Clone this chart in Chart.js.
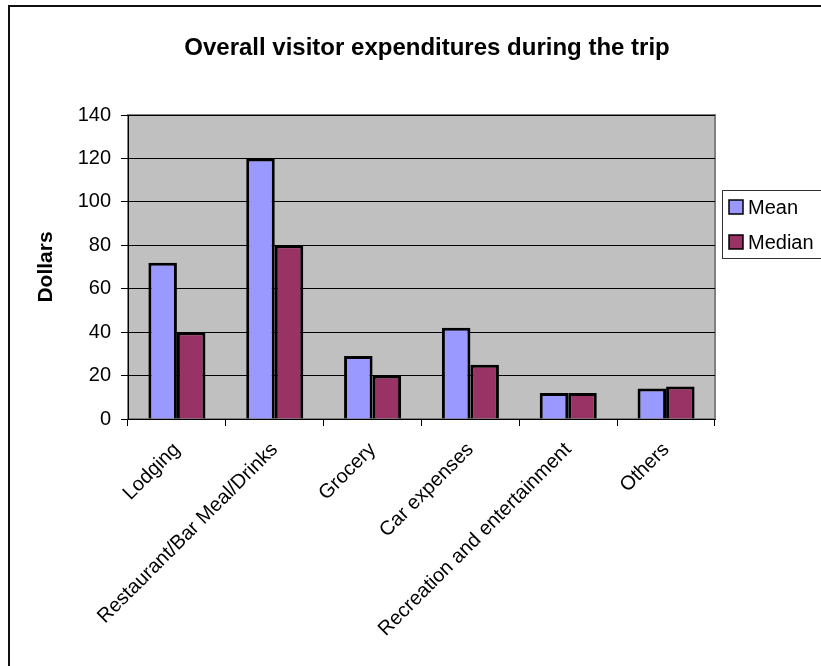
<!DOCTYPE html>
<html>
<head>
<meta charset="utf-8">
<title>Overall visitor expenditures during the trip</title>
<script src="https://cdn.jsdelivr.net/npm/chart.js@4"></script>
<style>
  html, body { margin: 0; padding: 0; background: #fff; }
  #wrap { position: relative; width: 821px; height: 666px; }
</style>
</head>
<body>
<div id="wrap"><canvas id="spesaChart"></canvas></div>
<script>
// ===== DATI =====
const categorie = [
  "Lodging",
  "Restaurant/Bar Meal/Drinks",
  "Grocery",
  "Car expenses",
  "Recreation and entertainment",
  "Others",
];
const mediaSpesa = [72, 120, 29, 42, 12, 14];
const medianaSpesa = [40, 80, 20, 25, 12, 15];
const tickDollari = [0, 20, 40, 60, 80, 100, 120, 140];

const FONT = "'Liberation Sans', Arial, sans-serif";

// ===== SFONDO, CORNICE, TITOLO E LEGENDA =====
const cornice = {
  id: "cornice",
  beforeDraw(chart) {
    const { ctx, chartArea: a } = chart;
    ctx.save();
    // area del grafico grigia
    ctx.fillStyle = "#c0c0c0";
    ctx.fillRect(a.left, a.top, a.right - a.left, a.bottom - a.top);
    ctx.strokeStyle = "#808080";
    ctx.lineWidth = 2;
    ctx.strokeRect(a.left, a.top, a.right - a.left, a.bottom - a.top);
    // bordo esterno (lati destro e inferiore fuori dalla tela)
    ctx.strokeStyle = "#111";
    ctx.lineWidth = 2;
    ctx.beginPath();
    ctx.moveTo(9, 700);
    ctx.lineTo(9, 6);
    ctx.lineTo(900, 6);
    ctx.stroke();
    ctx.restore();
  },
  afterDraw(chart) {
    const { ctx } = chart;
    ctx.save();
    // titolo
    ctx.fillStyle = "#000";
    ctx.font = `bold 24px ${FONT}`;
    ctx.textAlign = "center";
    ctx.textBaseline = "middle";
    ctx.fillText("Overall visitor expenditures during the trip", 427, 48);

    // legenda con riquadro
    ctx.fillStyle = "#fff";
    ctx.fillRect(722, 190, 120, 68);
    ctx.strokeStyle = "#333";
    ctx.lineWidth = 1;
    ctx.strokeRect(722.5, 190.5, 120, 68);
    ctx.font = `20px ${FONT}`;
    ctx.textAlign = "left";
    chart.data.datasets.forEach((ds, i) => {
      const y = 207 + i * 35;
      ctx.fillStyle = ds.backgroundColor;
      ctx.fillRect(729, y - 7, 14, 14);
      ctx.strokeStyle = "#000";
      ctx.lineWidth = 1.5;
      ctx.strokeRect(729, y - 7, 14, 14);
      ctx.fillStyle = "#000";
      ctx.fillText(ds.label, 748, y + 1);
    });
    ctx.restore();
  },
};

// ===== GRAFICO =====
const spesaCtx = document.getElementById("spesaChart").getContext("2d");
new Chart(spesaCtx, {
  type: "bar",
  data: {
    labels: categorie,
    datasets: [
      {
        label: "Mean",
        data: mediaSpesa,
        backgroundColor: "#9999ff",
        borderColor: "#000",
        borderWidth: 3,
      },
      {
        label: "Median",
        data: medianaSpesa,
        backgroundColor: "#993366",
        borderColor: "#000",
        borderWidth: 3,
      },
    ],
  },
  options: {
    responsive: true,
    maintainAspectRatio: false,
    animation: false,
    categoryPercentage: 0.583,
    barPercentage: 1.0,
    layout: { padding: { top: 115, left: 0, right: 106, bottom: 0 } },
    plugins: {
      legend: { display: false },
      title: { display: false },
      tooltip: { enabled: false },
    },
    scales: {
      x: {
        grid: {
          offset: true,
          drawOnChartArea: false,
          drawTicks: true,
          tickLength: 7,
          color: "#000",
        },
        border: { color: "#000", width: 1 },
        ticks: {
          color: "#000",
          font: { family: FONT, size: 20 },
          maxRotation: 45,
          minRotation: 45,
          autoSkip: false,
          padding: 12,
        },
        afterFit: (s) => {
          s.height = 247;
        },
      },
      y: {
        min: 0,
        max: 140,
        afterBuildTicks: (s) => {
          s.ticks = tickDollari.map((v) => ({ value: v }));
        },
        grid: { color: "#000", tickLength: 7, drawTicks: true },
        border: { color: "#000", width: 1 },
        ticks: {
          color: "#000",
          font: { family: FONT, size: 20 },
          padding: 10,
        },
        title: {
          display: true,
          text: "Dollars",
          color: "#000",
          font: { family: FONT, size: 21, weight: "bold" },
          padding: { top: 34, bottom: 0 },
        },
        afterFit: (s) => {
          s.width = 128;
        },
      },
    },
  },
  plugins: [cornice],
});
</script>
</body>
</html>
